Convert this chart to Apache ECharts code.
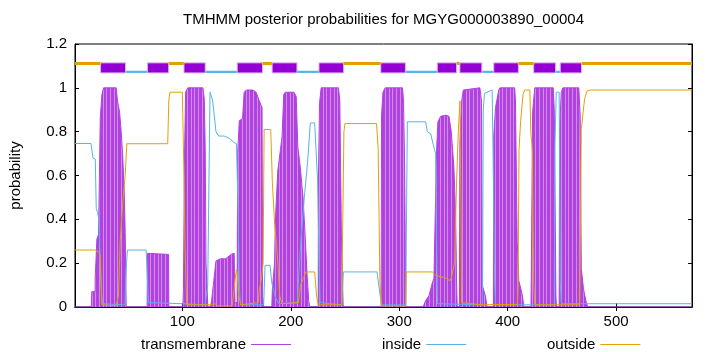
<!DOCTYPE html>
<html>
<head>
<meta charset="utf-8">
<script src="https://cdn.jsdelivr.net/npm/echarts@6/dist/echarts.min.js"></script>
<style>
  html, body { margin: 0; padding: 0; background: #fff; }
  #chart { width: 720px; height: 352px; }
</style>
</head>
<body>
<div id="chart"></div>
<script>
// residue positions of tick labels
const xTicks = [100, 200, 300, 400, 500];

// posterior probabilities, as [residue, probability]
const transmembrane = [
  [1, 0], [16, 0], [16.5, 0.07], [19.5, 0.07], [19.7, 0.14], [21, 0.14], [21.2, 0.31], [22.7, 0.33],
  [24.3, 0.86], [25.8, 0.97], [27.4, 1], [39, 1], [40.2, 0.94], [42.1, 0.89], [43.6, 0.8], [45.1, 0.68],
  [46.4, 0.52], [47.3, 0.34], [48.2, 0],
  [67.5, 0], [67.8, 0.245], [87.3, 0.24], [87.5, 0],
  [100.5, 0], [101, 0.08], [102, 0.69], [103, 0.98], [105, 1], [119, 1], [120.2, 0.95], [121.1, 0.72],
  [121.8, 0.2], [123.5, 0],
  [126, 0], [127, 0.03], [129, 0.12], [131, 0.21], [135, 0.22], [140, 0.22], [145, 0.24], [147.8, 0.245],
  [148.5, 0.02], [150.5, 0.02], [151, 0.7], [152.5, 0.85], [155.5, 0.86], [157, 0.98], [159, 0.99],
  [165, 0.99], [168, 0.98], [171, 0.94], [173.5, 0.91], [174, 0.05], [175, 0],
  [182.5, 0], [183, 0.08], [185, 0.2], [186, 0.42], [188, 0.62], [190.5, 0.72], [192, 0.78], [193.5, 0.97],
  [195, 0.98], [203, 0.98], [205, 0.96], [206.5, 0.73], [208.7, 0.64], [211.3, 0.5], [213, 0.35],
  [215, 0.15], [216.5, 0.03], [217.5, 0],
  [225.3, 0], [225.5, 0.58], [226.5, 0.93], [228, 1], [244, 1], [245.2, 0.94], [246.8, 0.3], [248.3, 0],
  [283.3, 0], [283.7, 0.875], [285, 0.98], [287, 1], [303, 1], [304, 0.94], [305, 0.64], [306, 0],
  [322, 0], [324.4, 0.03], [327.4, 0.05], [330.5, 0.11], [332, 0.13], [334.5, 0.72], [335.7, 0.845],
  [338.2, 0.87], [342.8, 0.875], [345.9, 0.87], [348, 0.8], [350.4, 0.64], [352, 0.42], [352.9, 0.11], [353.5, 0],
  [355.5, 0], [356, 0.75], [357.6, 0.94], [359.1, 0.99], [374.4, 1], [375.9, 0.94], [376.5, 0.1],
  [379.5, 0.05], [381, 0],
  [386.8, 0], [387.2, 0.78], [388.8, 0.91], [391.8, 0.99], [392.8, 1], [406.5, 1], [407.2, 0.94],
  [408.8, 0.3], [410.3, 0.12], [413.3, 0.06], [415, 0],
  [421.5, 0], [422, 0.25], [423, 0.89], [425, 1], [442, 1], [443, 0.9], [444.5, 0.05], [445, 0],
  [447.5, 0], [447.9, 0.8], [449.4, 0.98], [451, 1], [465.6, 1], [466.9, 0.875], [467.9, 0.175],
  [470, 0.08], [472.5, 0.02], [474, 0], [570, 0]
];

const inside = [
  [1, 0.746], [15.7, 0.746], [17.6, 0.68], [19.7, 0.675], [20.6, 0.45], [21.8, 0.43], [23, 0.4],
  [24.9, 0.11], [26.1, 0.015], [47, 0.01], [48.5, 0.2], [49.4, 0.26], [66.6, 0.26], [68.7, 0.02],
  [100, 0.015], [121, 0.01], [123.4, 0.1], [125.5, 0.98], [128, 0.94], [131, 0.8], [133.5, 0.78],
  [138.6, 0.78], [143.2, 0.77], [147.8, 0.75], [149.9, 0.745], [151.5, 0.42], [152.5, 0.11], [153.5, 0.01],
  [175, 0.01], [176.3, 0.19], [180.9, 0.19], [182.5, 0.11], [186, 0.04], [189, 0.015],
  [206, 0.02], [209, 0.28], [212.5, 0.5], [215.5, 0.66], [218, 0.84], [222, 0.84], [224.7, 0.58],
  [225.8, 0.28], [227, 0.02], [247, 0.01], [248.5, 0.16], [250, 0.16], [279.5, 0.16], [282.5, 0.05],
  [284, 0.01], [306, 0.01], [307.5, 0.845], [324.4, 0.845], [325.9, 0.8], [329, 0.79], [331.4, 0.74],
  [333.6, 0.7], [334.5, 0.27], [335.3, 0.015], [376.8, 0.01], [377.5, 0.9], [378.7, 0.975],
  [385.7, 0.99], [386.6, 0.67], [387.9, 0.12], [389, 0.01], [443, 0.01], [443.5, 0.72], [444.8, 0.98],
  [447.5, 0.98], [448.5, 0.11], [449.5, 0.015], [570, 0.015]
];

const outside = [
  [1, 0.26], [19.7, 0.26], [22.8, 0.25], [24.3, 0.236], [25.8, 0.01], [39, 0.005], [41.1, 0.05],
  [42.7, 0.3], [45.1, 0.48], [47.3, 0.6], [48.8, 0.745], [86.5, 0.745], [87.5, 0.94], [88.5, 0.98],
  [100, 0.98], [101.5, 0.6], [102.5, 0.27], [104, 0.01], [128, 0.01], [130, 0.015], [133, 0.005],
  [146, 0.005], [148.5, 0.12], [149.8, 0.17], [150.5, 0.16], [152, 0.05], [154, 0.01], [170, 0.02],
  [170.8, 0.07], [173.2, 0.14], [174.5, 0.2], [175.4, 0.81], [181.5, 0.81], [183, 0.57], [185.2, 0.37],
  [187.6, 0.24], [189.8, 0.05], [192, 0.015], [207, 0.02], [209, 0.1], [211.6, 0.13], [214, 0.16],
  [222, 0.16], [223.8, 0.05], [225.3, 0.01], [247, 0.01], [249, 0.8], [250, 0.837], [279.1, 0.837],
  [280.6, 0.72], [282.2, 0.11], [283.7, 0.005], [306, 0.005], [306.5, 0.16], [330.5, 0.16],
  [333.6, 0.145], [343.8, 0.13], [346.8, 0.12], [348.4, 0.14], [351, 0.2], [352.9, 0.57], [354.5, 0.8],
  [356, 0.94], [357, 0.4], [357.5, 0.02], [376, 0.01], [409, 0.012], [409.6, 0.1], [410.5, 0.72],
  [412, 0.85], [414.2, 0.97], [415.7, 0.99], [420.5, 0.99], [421.3, 0.8], [422.8, 0.71], [424, 0.11],
  [425, 0.01], [466.5, 0.01], [467.9, 0.81], [469.4, 0.88], [471, 0.95], [473.1, 0.985], [476, 0.99],
  [570, 0.99]
];

// predicted topology, [start, end] residue
const outsideSegs = [[1, 24.6], [87.4, 101.5], [173.9, 182.8], [248.7, 283], [352.9, 355.9], [409.9, 424], [468.1, 570]];
const insideSegs = [[47.6, 67.8], [121.1, 150.6], [205.7, 226], [305.7, 335.1], [376.2, 387.2], [444.2, 448.5]];
const helixSegs = [[24.6, 47.6], [67.8, 87.4], [101.5, 121.1], [150.6, 173.9], [182.8, 205.7], [226, 248.7],
  [283, 305.7], [335.1, 352.9], [355.9, 376.2], [387.2, 409.9], [424, 444.2], [448.5, 468.1]];

const FONT = 'Liberation Sans';
const TM_COL = '#b142e0';
const IN_COL = '#56b4e9';
const OUT_COL = '#e69f00';

// striped fill, like the gaps between gnuplot impulses
const stripe = document.createElement('canvas');
stripe.width = 11;
stripe.height = 4;
(function () {
  const g = stripe.getContext('2d');
  g.fillStyle = TM_COL;
  g.fillRect(0, 0, 11, 4);
  g.fillStyle = '#cf8cec';
  [0, 4, 7].forEach(function (x) { g.fillRect(x, 0, 1, 4); });
})();

function bandRender(yLow, yHigh, fill, stroke) {
  return function (params, api) {
    const a = api.coord([api.value(0), yHigh]);
    const b = api.coord([api.value(1), yLow]);
    return {
      type: 'rect',
      shape: { x: a[0], y: a[1], width: b[0] - a[0], height: b[1] - a[1] },
      style: { fill: fill, stroke: stroke, lineWidth: stroke ? 1 : 0 }
    };
  };
}

const chart = echarts.init(document.getElementById('chart'), null, { renderer: 'canvas' });

function keyEntry(name, color, left) {
  return {
    orient: 'horizontal',
    align: 'right',
    itemWidth: 40,
    itemHeight: 1,
    top: 332,
    left: left,
    selectedMode: false,
    textStyle: { fontFamily: FONT, fontSize: 15, color: '#000' },
    data: [{
      name: name,
      icon: 'rect',
      itemStyle: { color: color, borderWidth: 0, opacity: 1 },
      lineStyle: { width: 0, opacity: 0 }
    }]
  };
}

const option = {
  animation: false,
  backgroundColor: '#fff',
  textStyle: { fontFamily: FONT },
  title: {
    text: 'TMHMM posterior probabilities for MGYG000003890_00004',
    left: 183,
    top: 12,
    padding: 0,
    textStyle: { fontFamily: FONT, fontSize: 15, fontWeight: 'normal', color: '#000' }
  },
  legend: [
    keyEntry('transmembrane', TM_COL, 136),
    keyEntry('inside', IN_COL, 377),
    keyEntry('outside', OUT_COL, 542)
  ],
  grid: { left: 73, right: 28, top: 44, bottom: 45, show: true, borderColor: '#000', borderWidth: 1 },
  xAxis: [
    {
      type: 'value', min: 1, max: 570, position: 'bottom',
      axisLine: { show: true, lineStyle: { color: '#000' } },
      axisTick: { show: true, inside: true, length: 4, customValues: xTicks, lineStyle: { color: '#000' } },
      axisLabel: { customValues: xTicks, color: '#000', fontSize: 15, fontFamily: FONT, margin: 7 },
      splitLine: { show: false }
    },
    {
      type: 'value', min: 1, max: 570, position: 'top',
      axisLine: { show: true, lineStyle: { color: '#000' } },
      axisTick: { show: true, inside: true, length: 4, customValues: xTicks, lineStyle: { color: '#000' } },
      axisLabel: { show: false },
      splitLine: { show: false }
    }
  ],
  yAxis: [
    {
      type: 'value', min: 0, max: 1.2, interval: 0.2, position: 'left',
      name: 'probability', nameLocation: 'middle', nameGap: 52, nameRotate: 90,
      nameTextStyle: { fontFamily: FONT, fontSize: 15, color: '#000' },
      axisLine: { show: true, lineStyle: { color: '#000' } },
      axisTick: { show: true, inside: true, length: 4, lineStyle: { color: '#000' } },
      axisLabel: { color: '#000', fontSize: 15, fontFamily: FONT, margin: 8 },
      splitLine: { show: false }
    },
    {
      type: 'value', min: 0, max: 1.2, interval: 0.2, position: 'right',
      axisLine: { show: true, lineStyle: { color: '#000' } },
      axisTick: { show: true, inside: true, length: 4, lineStyle: { color: '#000' } },
      axisLabel: { show: false },
      splitLine: { show: false }
    }
  ],
  series: [
    {
      name: 'transmembrane', type: 'line', data: transmembrane,
      showSymbol: false, symbol: 'none',
      itemStyle: { color: TM_COL },
      lineStyle: { color: TM_COL, width: 1 },
      areaStyle: { color: { image: stripe, repeat: 'repeat' }, opacity: 1 },
      z: 2
    },
    {
      name: 'inside', type: 'line', data: inside,
      showSymbol: false, symbol: 'none',
      itemStyle: { color: IN_COL },
      lineStyle: { color: IN_COL, width: 1 },
      z: 3
    },
    {
      name: 'outside', type: 'line', data: outside,
      showSymbol: false, symbol: 'none',
      itemStyle: { color: OUT_COL },
      lineStyle: { color: OUT_COL, width: 1 },
      z: 4
    },
    {
      name: 'outsideTopo', type: 'custom', data: outsideSegs, encode: { x: [0, 1] },
      renderItem: bandRender(1.104, 1.118, OUT_COL, null), z: 5
    },
    {
      name: 'insideTopo', type: 'custom', data: insideSegs, encode: { x: [0, 1] },
      renderItem: bandRender(1.068, 1.078, IN_COL, null), z: 5
    },
    {
      name: 'helixTopo', type: 'custom', data: helixSegs, encode: { x: [0, 1] },
      renderItem: bandRender(1.068, 1.114, '#9400d3', '#d9b3f0'), z: 6
    }
  ]
};

chart.setOption(option);
</script>
</body>
</html>
